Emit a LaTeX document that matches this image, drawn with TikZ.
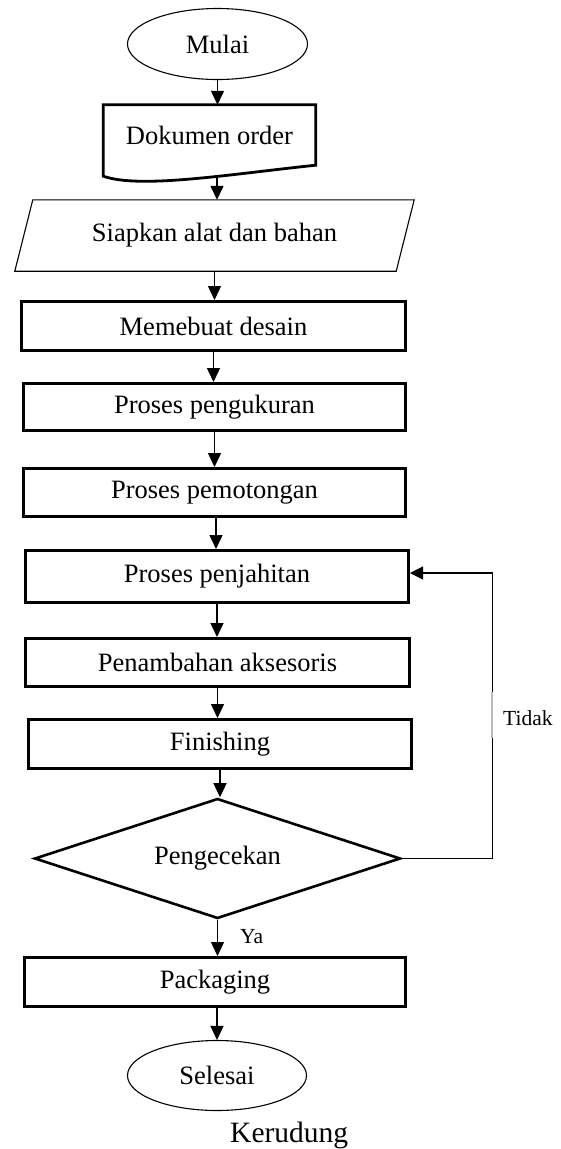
\documentclass[tikz,border=0pt]{standalone}
\usepackage{fontspec}
\setmainfont{Liberation Serif}
\usetikzlibrary{arrows.meta,calc,shapes.geometric}
\begin{document}
\begin{tikzpicture}[x=1pt,y=-1pt,
  every node/.style={font=\fontsize{26.5}{30}\selectfont, inner sep=0pt},
  proc/.style={draw, rectangle, line width=2.8pt},
  term/.style={draw, ellipse, line width=1.1pt},
  arr/.style={line width=1.4pt, -{Triangle[length=14pt,width=13pt]}},
  fb/.style={line width=1.1pt, -{Triangle[length=13pt,width=13pt]}},
  lbl/.style={font=\fontsize{21.5}{24}\selectfont, anchor=base west},
  ttl/.style={font=\fontsize{29.5}{32}\selectfont, anchor=base west}
]
\useasboundingbox (0,0) rectangle (560,1149);
\fill[white] (0,0) rectangle (560,1149);

% terminals
\node[term, minimum width=180, minimum height=71] (mulai) at (217.5,44) {Mulai};
\node[term, minimum width=179, minimum height=70] (selesai) at (217,1075.5) {Selesai};

% document shape
\node[minimum width=212, minimum height=60] (dok) at (209.5,135) {Dokumen order};
\draw[line width=2.8pt, line join=miter] (dok.south east) -- (dok.north east) -- (dok.north west)
  -- ($(dok.south west)+(0,11)$)
  .. controls ($(dok.south west)+(37,24)$) and ($(dok.south east)+(-86,9)$) .. (dok.south east) -- cycle;
\coordinate (dokb) at ($(dok.south)+(7.5,12)$);

% input/output parallelogram
\node[minimum width=381, minimum height=71] (para) at (214.5,235.5) {Siapkan alat dan bahan};
\draw[line width=1.1pt] ([xshift=9pt]para.north west) -- ([xshift=9pt]para.north east)
  -- ([xshift=-9pt]para.south east) -- ([xshift=-9pt]para.south west) -- cycle;

% process boxes
\node[proc, minimum width=384.2, minimum height=49.2] (desain) at (213.5,326) {Memebuat desain};
\node[proc, minimum width=382.2, minimum height=47.2] (ukur) at (214.5,407) {Proses pengukuran};
\node[proc, minimum width=382.2, minimum height=48.2] (potong) at (214.5,492.5) {Proses pemotongan};
\node[proc, minimum width=383.2, minimum height=52.2] (jahit) at (217,576.5) {Proses penjahitan};
\node[proc, minimum width=384.2, minimum height=48.2] (aks) at (217.5,662.5) {Penambahan aksesoris};
\node[proc, minimum width=383.2, minimum height=49.2] (fin) at (220,744) {Finishing};
\node[draw, diamond, aspect=3, line width=2.6pt, minimum width=366, minimum height=120] (chk) at (217.5,858.5) {Pengecekan};
\node[proc, minimum width=381.2, minimum height=49.2] (pack) at (215,982) {Packaging};

% connectors
\draw[arr] (mulai.south) -- (mulai.south |- dok.north);
\draw[arr] (dokb) -- (dokb |- para.north);
\draw[arr] (para.south) -- (para.south |- desain.north);
\draw[arr] (desain.south) -- (desain.south |- ukur.north);
\draw[arr] (ukur.south) -- (ukur.south |- potong.north);
\draw[arr] ([xshift=1.5pt]potong.south) -- ([xshift=1.5pt]potong.south |- jahit.north);
\draw[arr] (jahit.south) -- (jahit.south |- aks.north);
\draw[arr] (aks.south) -- (aks.south |- fin.north);
\draw[arr] (fin.south) -- (fin.south |- chk.north);
\draw[arr] (chk.south) -- (chk.south |- pack.north);
\draw[arr] ([xshift=2pt]pack.south) -- ([xshift=2pt]pack.south |- selesai.north);

% loop back
\draw[fb] (chk.east) -- ++(91,0) |- ([yshift=3.5pt]jahit.east);
\draw[gray!55, line width=1.6pt] (492,692) -- (492,738);

% labels
\node[lbl] (tidak) at (503,725) {Tidak};
\node[lbl] (ya) at (240,943) {Ya};
\node[ttl] (judul) at (230,1142) {Kerudung};
\end{tikzpicture}
\end{document}
